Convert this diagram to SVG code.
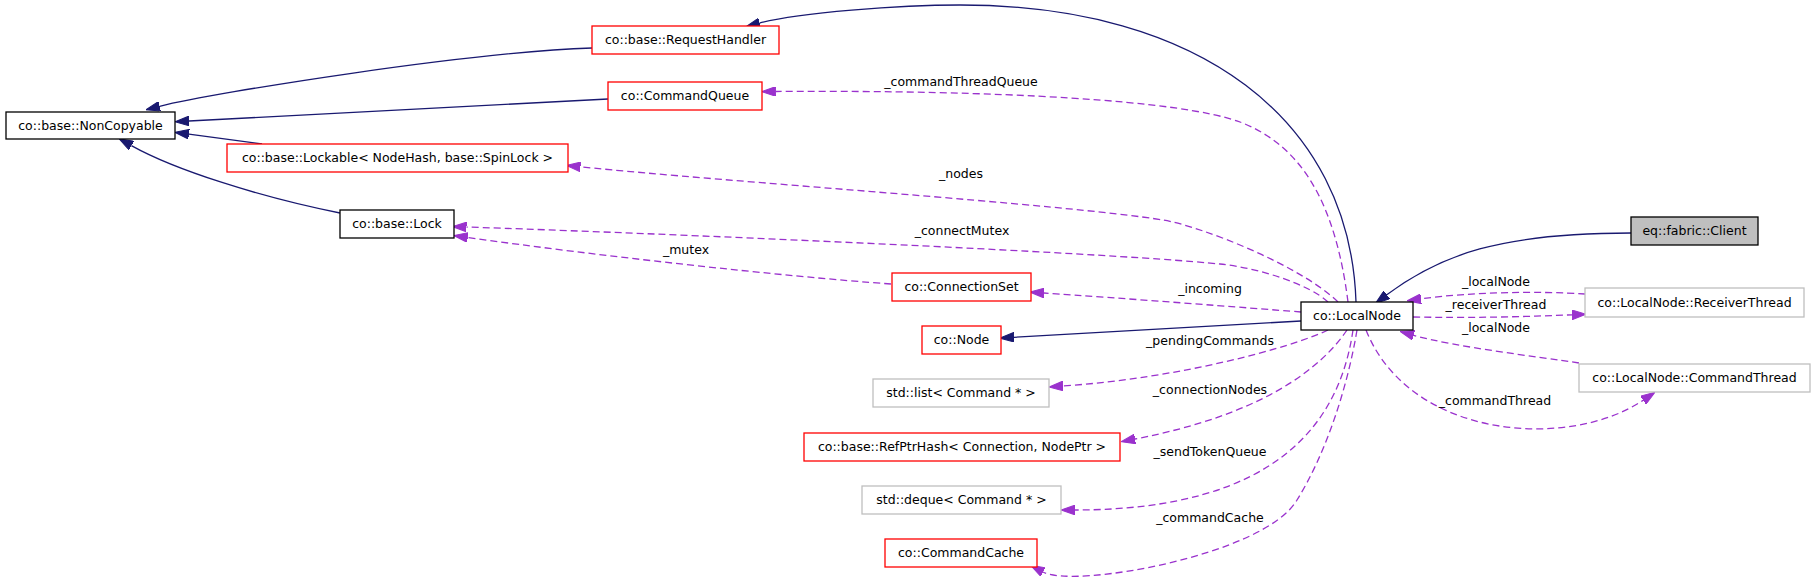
<svg xmlns="http://www.w3.org/2000/svg" width="1816" height="580" viewBox="0 0 1816 580">
<style>
text{font-family:"DejaVu Sans","Liberation Sans",sans-serif;font-size:12.5px;fill:#000;text-anchor:middle}
.n rect{fill:#fff;stroke-width:1.3}
.red rect{stroke:#ff0000}
.blk rect{stroke:#000}
.gry rect{stroke:#bfbfbf}
.cur rect{fill:#bfbfbf;stroke:#000}
.inh path{fill:none;stroke:#191970;stroke-width:1.3;marker-end:url(#ab)}
.use path{fill:none;stroke:#9a32cd;stroke-width:1.3;stroke-dasharray:7,4;marker-end:url(#ap)}
</style>
<defs>
<marker id="ab" markerUnits="userSpaceOnUse" markerWidth="14" markerHeight="10" viewBox="0 0 13 9" refX="0" refY="4.5" orient="auto"><path d="M0,0 L13,4.5 L0,9 z" fill="#191970" stroke="#191970" stroke-width="1"/></marker>
<marker id="ap" markerUnits="userSpaceOnUse" markerWidth="14" markerHeight="10" viewBox="0 0 13 9" refX="0" refY="4.5" orient="auto"><path d="M0,0 L13,4.5 L0,9 z" fill="#9a32cd" stroke="#9a32cd" stroke-width="1"/></marker>
</defs>
<rect width="1816" height="580" fill="#fff"/>
<g id="edges">
<g class="inh">
<path d="M1356,302 C1350,120 1200,5 960,5 C900,5 798,12.6 759.5,23.1"/>
<path d="M1631,233 C1500,233 1440,255 1386.8,294.8"/>
<path d="M608,99 L189,121"/>
<path d="M592,48 C470,52 217,92 159.6,106.3"/>
<path d="M262,144 L188.9,134.2"/>
<path d="M340,213 C260,197 175,170 131.4,145.6"/>
<path d="M1301,321 L1014,337.3"/>
</g>
<g class="use">
<path d="M1348,302 C1335,200 1300,145 1240,122 C1180,100 1000,90 775.7,91.5"/>
<path d="M1338,302 C1300,265 1200,226 1163,220 C1063,204 729,182 580.4,166.8"/>
<path d="M1328,302 C1310,285 1260,268 1220,264 C1100,252 650,233 466.5,227"/>
<path d="M891,284 C780,276 600,256 467.7,237.5"/>
<path d="M1301,312 C1250,308 1120,298 1044,293"/>
<path d="M1328,330 C1290,348 1180,378 1063,386"/>
<path d="M1347,330 C1320,370 1260,415 1135,439"/>
<path d="M1353,330 C1340,420 1280,510 1075,510"/>
<path d="M1357,330 C1347,390 1325,455 1297,500 C1265,555 1073.7,588.8 1043,572"/>
<path d="M1366,330 C1410,440 1570,450 1643.2,400.2"/>
<path d="M1585,294 C1540,291 1470,292 1421,298.8"/>
<path d="M1413,317 C1470,318 1520,317 1572,314.8"/>
<path d="M1579,363 C1540,357 1455,347 1413.6,335.3"/>
</g>
<g id="edge-labels">
<text x="961" y="86">_commandThreadQueue</text>
<text x="961" y="178">_nodes</text>
<text x="962" y="235">_connectMutex</text>
<text x="686" y="254">_mutex</text>
<text x="1210" y="293">_incoming</text>
<text x="1210" y="345">_pendingCommands</text>
<text x="1210" y="394">_connectionNodes</text>
<text x="1210" y="456">_sendTokenQueue</text>
<text x="1210" y="522">_commandCache</text>
<text x="1496" y="286">_localNode</text>
<text x="1496" y="309">_receiverThread</text>
<text x="1496" y="332">_localNode</text>
<text x="1495" y="405">_commandThread</text>
</g>
</g>
<g id="node-client" class="n cur"><rect x="1631" y="217" width="127" height="28"/><text x="1694.5" y="235">eq::fabric::Client</text></g>
<g id="node-localnode" class="n blk"><rect x="1301" y="302" width="112" height="28"/><text x="1357" y="320">co::LocalNode</text></g>
<g id="node-noncopyable" class="n blk"><rect x="6" y="112" width="169" height="27"/><text x="90.5" y="130">co::base::NonCopyable</text></g>
<g id="node-requesthandler" class="n red"><rect x="592" y="26" width="187" height="28"/><text x="685.5" y="44">co::base::RequestHandler</text></g>
<g id="node-commandqueue" class="n red"><rect x="608" y="82" width="154" height="28"/><text x="685" y="100">co::CommandQueue</text></g>
<g id="node-lockable" class="n red"><rect x="227" y="144" width="341" height="28"/><text x="397.5" y="162">co::base::Lockable&lt; NodeHash, base::SpinLock &gt;</text></g>
<g id="node-lock" class="n blk"><rect x="340" y="210" width="114" height="28"/><text x="397" y="228">co::base::Lock</text></g>
<g id="node-connectionset" class="n red"><rect x="892" y="273" width="139" height="28"/><text x="961.5" y="291">co::ConnectionSet</text></g>
<g id="node-node" class="n red"><rect x="922" y="326" width="79" height="28"/><text x="961.5" y="344">co::Node</text></g>
<g id="node-list" class="n gry"><rect x="873" y="379" width="176" height="28"/><text x="961" y="397">std::list&lt; Command * &gt;</text></g>
<g id="node-refptrhash" class="n red"><rect x="804" y="433" width="316" height="28"/><text x="962" y="451">co::base::RefPtrHash&lt; Connection, NodePtr &gt;</text></g>
<g id="node-deque" class="n gry"><rect x="862" y="486" width="199" height="28"/><text x="961.5" y="504">std::deque&lt; Command * &gt;</text></g>
<g id="node-commandcache" class="n red"><rect x="885" y="539" width="152" height="28"/><text x="961" y="557">co::CommandCache</text></g>
<g id="node-receiverthread" class="n gry"><rect x="1585" y="288" width="219" height="29"/><text x="1694.5" y="306.5">co::LocalNode::ReceiverThread</text></g>
<g id="node-commandthread" class="n gry"><rect x="1579" y="364" width="231" height="28"/><text x="1694.5" y="382">co::LocalNode::CommandThread</text></g>
</svg>
